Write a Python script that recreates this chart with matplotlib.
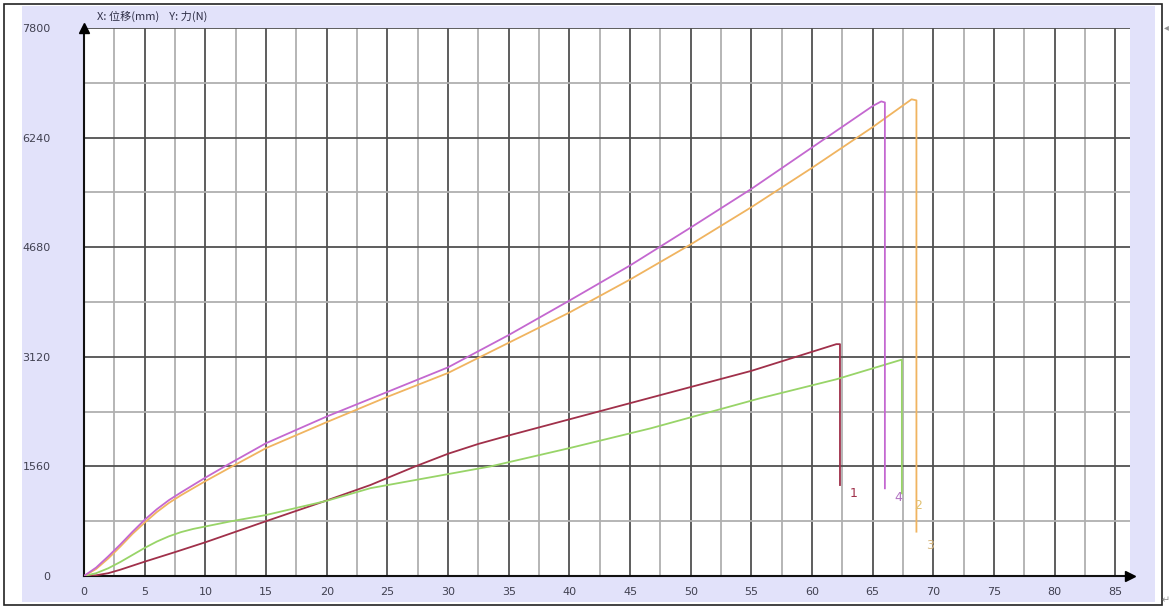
import matplotlib
matplotlib.use('Agg')
import matplotlib.pyplot as plt
from matplotlib.patches import Rectangle

##------------data---------------------------------------##
# specimen 1 (dark red)
x1 = [0, 1, 2, 3, 5, 7.5, 10, 15, 20, 23.6, 27.3, 30, 32.5, 35, 40, 45, 50, 55, 58.5, 62.0, 62.3, 62.3]
y1 = [0, 10, 40, 90, 204, 340, 480, 780, 1075, 1295, 1560, 1740, 1880, 2000, 2230, 2460, 2690, 2920, 3110, 3300, 3300, 1295]
# specimen 4 (purple)
x4 = [0, 1, 2, 3, 4, 5, 6, 7, 8, 10, 12, 15, 20, 25, 30, 35, 40, 45, 50, 55, 60, 65, 65.7, 66.0, 66.0]
y4 = [0, 120, 280, 450, 630, 800, 950, 1080, 1190, 1400, 1600, 1890, 2270, 2620, 2970, 3430, 3920, 4420, 4960, 5510, 6100, 6690, 6755, 6740, 1248]
# specimen 2/3 (orange)
x2 = [0, 1, 2, 3, 4, 5, 6, 7, 8, 10, 12, 15, 20, 25, 30, 35, 40, 45, 50, 55, 60, 65, 68.2, 68.6, 68.6]
y2 = [0, 100, 250, 420, 600, 760, 910, 1040, 1150, 1350, 1540, 1820, 2190, 2550, 2890, 3320, 3750, 4220, 4720, 5250, 5810, 6390, 6785, 6770, 631]
# green specimen
xg = [0, 1, 2, 3, 4, 5, 6, 7, 8, 9, 10, 12, 15, 20, 23.6, 33.5, 40, 46.7, 55.7, 62, 67.3, 67.4, 67.4]
yg = [0, 40, 110, 200, 300, 400, 490, 565, 625, 670, 705, 775, 868, 1070, 1250, 1560, 1820, 2102, 2529, 2800, 3075, 3080, 1177]

curve_labels = ['1', '4', '2', '3']
label_x = [63.4, 67.1, 68.7, 69.7]
label_y = [1180, 1120, 1000, 440]
label_colors = ['#a0304a', '#b070c0', '#e0c070', '#d8b880']

x_ticks = list(range(0, 90, 5))
y_ticks = [0, 1560, 3120, 4680, 6240, 7800]

num_font = ['Liberation Sans Narrow', 'DejaVu Sans']
cjk_font = ['Noto Sans CJK SC', 'DejaVu Sans']

##------------figure-----------------##
W, H = 1173, 614
fig = plt.figure(figsize=(W / 100, H / 100), dpi=100)
fig.patch.set_facecolor('white')

# outer frame and lavender panel
fig.patches.append(Rectangle((22 / W, 1 - 602 / H), (1155 - 22) / W, (602 - 6) / H,
                             transform=fig.transFigure, facecolor='#e2e2fa', edgecolor='none', zorder=-2))
fig.patches.append(Rectangle((4 / W, 1 - 605 / H), (1162 - 4) / W, (605 - 4) / H,
                             transform=fig.transFigure, facecolor='none', edgecolor='#222222', lw=1.2, zorder=-1))

ax = fig.add_axes([84 / W, 1 - 576 / H, (1130 - 84) / W, (576 - 28) / H])
ax.set_zorder(2)
ax.set_facecolor('white')
ax.set_xlim(0, 86.2)
ax.set_ylim(0, 7800)

ax.set_xticks(x_ticks)
ax.set_xticks([v + 2.5 for v in x_ticks[:-1]], minor=True)
ax.set_yticks(y_ticks)
ax.set_yticks([v + 780 for v in y_ticks[:-1]], minor=True)
ax.grid(which='major', color='#505050', lw=1.3)
ax.grid(which='minor', color='#b0b0b0', lw=1.3)
ax.set_axisbelow(True)
ax.tick_params(which='both', length=0)
ax.tick_params(axis='y', pad=24)
ax.tick_params(axis='x', pad=8)
for lab in ax.get_xticklabels() + ax.get_yticklabels():
    lab.set_family(num_font)
    lab.set_fontsize(8)
    lab.set_color('#404050')
for s in ['top', 'right']:
    ax.spines[s].set_visible(False)
for s in ['left', 'bottom']:
    ax.spines[s].set_color('#111111')
    ax.spines[s].set_linewidth(1.5)

# axis arrows
ax.plot(0, 7800, marker='^', color='black', ms=7, clip_on=False, zorder=5)
ax.plot(86.2, 0, marker='>', color='black', ms=7, clip_on=False, zorder=5)

# curves
ax.plot(x1, y1, color='#a0304a', lw=1.3, zorder=3)
ax.plot(xg, yg, color='#98d468', lw=1.3, zorder=3)
ax.plot(x2, y2, color='#f0b460', lw=1.3, zorder=3)
ax.plot(x4, y4, color='#c468d0', lw=1.3, zorder=3)

for t, lx, ly, c in zip(curve_labels, label_x, label_y, label_colors):
    ax.text(lx, ly, t, color=c, fontsize=9, family=num_font, ha='center', va='center')

fig.text(97 / W, 1 - 16 / H, 'X: 位移(mm)    Y: 力(N)', family=cjk_font, fontsize=8,
         color='#303048', ha='left', va='center')
fig.text(1166 / W, 1 - 600 / H, '\u21b5', fontsize=7, color='#909090', ha='center', va='center')
fig.text(1166 / W, 1 - 27 / H, '\u25c2', fontsize=7, color='#909090', ha='center', va='center')

fig.savefig('out.png', dpi=100)
